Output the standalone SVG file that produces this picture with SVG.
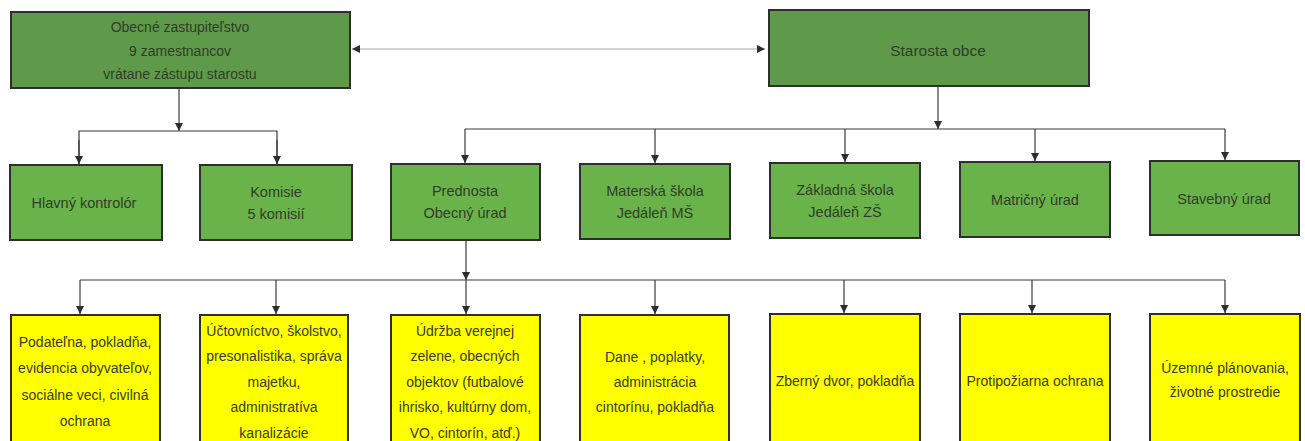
<svg xmlns="http://www.w3.org/2000/svg" width="1305" height="441" viewBox="0 0 1305 441">
<style>
.top{fill:#5f9a4a;stroke:#2e2e2e;stroke-width:2}
.mid{fill:#6ab34a;stroke:#2e2e2e;stroke-width:2}
.yel{fill:#ffff00;stroke:#2e2e2e;stroke-width:2}
text{font-family:"Liberation Sans Narrow","Liberation Sans",Arial,sans-serif;text-anchor:middle;dominant-baseline:central}
.tg{fill:#2f3d28;font-size:14px}
.tm{fill:#2f3d28;font-size:14.5px}
.ty{fill:#3a3a2a;font-size:14px}
.ln{stroke:#3a3a3a;stroke-width:1.2;fill:none}
.lf{stroke:#a8a8a8;stroke-width:1.2;fill:none}
</style>
<defs>
<marker id="ah" viewBox="0 0 10 10" refX="10" refY="5" markerWidth="8" markerHeight="8" markerUnits="userSpaceOnUse" orient="auto-start-reverse">
<path d="M0,0 L10,5 L0,10 z" fill="#2e2e2e"/>
</marker>
</defs>
<g id="connectors">
<line class="lf" x1="352" y1="49" x2="765" y2="49" marker-start="url(#ah)" marker-end="url(#ah)"/>
<line class="ln" x1="179" y1="88" x2="179" y2="131" marker-end="url(#ah)"/>
<polyline class="ln" points="79,164 79,131 277,131 277,164"/>
<line class="ln" x1="79" y1="140" x2="79" y2="164" marker-end="url(#ah)"/>
<line class="ln" x1="277" y1="140" x2="277" y2="164" marker-end="url(#ah)"/>
<line class="ln" x1="938" y1="86" x2="938" y2="129" marker-end="url(#ah)"/>
<line class="ln" x1="465" y1="129" x2="1225" y2="129"/>
<line class="ln" x1="465" y1="129" x2="465" y2="163" marker-end="url(#ah)"/>
<line class="ln" x1="655" y1="129" x2="655" y2="163" marker-end="url(#ah)"/>
<line class="ln" x1="845" y1="129" x2="845" y2="162" marker-end="url(#ah)"/>
<line class="ln" x1="1035" y1="129" x2="1035" y2="161" marker-end="url(#ah)"/>
<line class="ln" x1="1225" y1="129" x2="1225" y2="160" marker-end="url(#ah)"/>
<line class="ln" x1="466" y1="240" x2="466" y2="280" marker-end="url(#ah)"/>
<line class="ln" x1="80" y1="280" x2="1225" y2="280"/>
<line class="ln" x1="80" y1="280" x2="80" y2="314" marker-end="url(#ah)"/>
<line class="ln" x1="276" y1="280" x2="276" y2="314" marker-end="url(#ah)"/>
<line class="ln" x1="466" y1="280" x2="466" y2="314" marker-end="url(#ah)"/>
<line class="ln" x1="655" y1="280" x2="655" y2="314" marker-end="url(#ah)"/>
<line class="ln" x1="844" y1="280" x2="844" y2="313" marker-end="url(#ah)"/>
<line class="ln" x1="1032" y1="280" x2="1032" y2="313" marker-end="url(#ah)"/>
<line class="ln" x1="1225" y1="280" x2="1225" y2="313" marker-end="url(#ah)"/>
</g>
<g id="zastupitelstvo">
<rect class="top" x="11" y="12" width="339" height="76"/>
<text class="tg" x="180" y="27">Obecné zastupiteľstvo</text>
<text class="tg" x="180" y="51">9 zamestnancov</text>
<text class="tg" x="180" y="74">vrátane zástupu starostu</text>
</g>
<g id="starosta">
<rect class="top" x="769" y="10" width="320" height="76"/>
<text class="tm" x="938" y="50" style="font-size:15.5px">Starosta obce</text>
</g>
<g id="kontrolor">
<rect class="mid" x="10" y="165" width="152" height="75"/>
<text class="tm" x="84" y="203">Hlavný kontrolór</text>
</g>
<g id="komisie">
<rect class="mid" x="200" y="165" width="152" height="75"/>
<text class="tm" x="276" y="192">Komisie</text>
<text class="tm" x="276" y="214">5 komisií</text>
</g>
<g id="prednosta">
<rect class="mid" x="391" y="164" width="149" height="76"/>
<text class="tm" x="465" y="191">Prednosta</text>
<text class="tm" x="465" y="213">Obecný úrad</text>
</g>
<g id="materska">
<rect class="mid" x="580" y="164" width="150" height="75"/>
<text class="tm" x="655" y="191">Materská škola</text>
<text class="tm" x="655" y="213">Jedáleň MŠ</text>
</g>
<g id="zakladna">
<rect class="mid" x="770" y="163" width="150" height="75"/>
<text class="tm" x="845" y="190">Základná škola</text>
<text class="tm" x="845" y="212">Jedáleň ZŠ</text>
</g>
<g id="matricny">
<rect class="mid" x="960" y="162" width="150" height="75"/>
<text class="tm" x="1035" y="200">Matričný úrad</text>
</g>
<g id="stavebny">
<rect class="mid" x="1150" y="161" width="149" height="74"/>
<text class="tm" x="1224" y="199">Stavebný úrad</text>
</g>
<g id="podatelna">
<rect class="yel" x="11" y="315" width="149" height="140"/>
<text class="ty" x="85" y="342">Podateľna, pokladňa,</text>
<text class="ty" x="85" y="368">evidencia obyvateľov,</text>
<text class="ty" x="85" y="395">sociálne veci, civilná</text>
<text class="ty" x="85" y="421">ochrana</text>
</g>
<g id="uctovnictvo">
<rect class="yel" x="200" y="315" width="148" height="140"/>
<text class="ty" x="274" y="331">Účtovníctvo, školstvo,</text>
<text class="ty" x="274" y="356">presonalistika, správa</text>
<text class="ty" x="274" y="382">majetku,</text>
<text class="ty" x="274" y="407">administratíva</text>
<text class="ty" x="274" y="433">kanalizácie</text>
</g>
<g id="udrzba">
<rect class="yel" x="391" y="315" width="149" height="140"/>
<text class="ty" x="465" y="331">Údržba verejnej</text>
<text class="ty" x="465" y="356">zelene, obecných</text>
<text class="ty" x="465" y="382">objektov (futbalové</text>
<text class="ty" x="465" y="407">ihrisko, kultúrny dom,</text>
<text class="ty" x="465" y="433">VO, cintorín, atď.)</text>
</g>
<g id="dane">
<rect class="yel" x="580" y="315" width="149" height="140"/>
<text class="ty" x="655" y="357">Dane , poplatky,</text>
<text class="ty" x="655" y="382">administrácia</text>
<text class="ty" x="655" y="407">cintorínu, pokladňa</text>
</g>
<g id="zberny">
<rect class="yel" x="770" y="314" width="150" height="140"/>
<text class="ty" x="845" y="381">Zberný dvor, pokladňa</text>
</g>
<g id="protipoziarna">
<rect class="yel" x="960" y="314" width="150" height="140"/>
<text class="ty" x="1035" y="381">Protipožiarna ochrana</text>
</g>
<g id="uzemne">
<rect class="yel" x="1150" y="314" width="150" height="140"/>
<text class="ty" x="1225" y="368">Územné plánovania,</text>
<text class="ty" x="1225" y="392">životné prostredie</text>
</g>
</svg>
